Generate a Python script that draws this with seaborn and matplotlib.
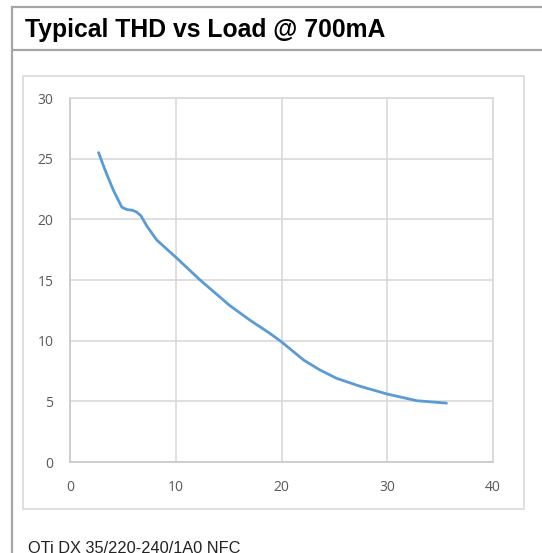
import matplotlib
matplotlib.use("Agg")
import matplotlib.pyplot as plt
from matplotlib.lines import Line2D
from matplotlib.patches import Rectangle
import seaborn as sns
import pandas as pd

# data
load = [2.7, 3.3, 4.1, 4.9, 5.4, 5.9, 6.3, 6.7, 7.3, 8.2, 10.1, 12.3, 15.1, 17.0,
        18.9, 20.0, 22.1, 23.6, 25.2, 27.4, 30.0, 32.8, 35.6]
thd = [25.5, 24.1, 22.4, 21.0, 20.8, 20.75, 20.6, 20.3, 19.4, 18.3, 16.8, 15.0, 12.9, 11.7,
       10.6, 9.9, 8.4, 7.6, 6.9, 6.25, 5.6, 5.05, 4.85]
x_ticks = [0, 10, 20, 30, 40]
y_ticks = [0, 5, 10, 15, 20, 25, 30]
title = "Typical THD vs Load @ 700mA"
footer = "OTi DX 35/220-240/1A0 NFC"

sns.set_theme(style="white")
plt.rcParams['font.family'] = ['Liberation Sans', 'DejaVu Sans']

W, H = 542, 553
fig = plt.figure(figsize=(W / 100, H / 100), dpi=100)
fig.patch.set_facecolor("white")

def fx(px):
    return px / W

def fy(py):
    return 1 - py / H

# outer frame lines
frame_col = "#A6A6A6"
fig.add_artist(Line2D([fx(12), 1.0], [fy(7), fy(7)], color=frame_col, lw=1.6))
fig.add_artist(Line2D([fx(12), 1.0], [fy(50), fy(50)], color=frame_col, lw=1.6))
fig.add_artist(Line2D([fx(12), fx(12)], [fy(7), 0.0], color=frame_col, lw=1.6))

# inner chart box
fig.add_artist(Rectangle((fx(23), fy(509)), fx(524) - fx(23), fy(76) - fy(509),
                         fill=False, edgecolor="#D9D9D9", lw=1.2))

fig.text(fx(25), fy(30), title, fontsize=17.8, fontweight="bold", color="black",
         va="center", ha="left")
fig.text(fx(28), fy(541), footer, fontsize=11.8, color="#222222", va="top", ha="left")

ax = fig.add_axes([fx(70), fy(462), fx(493) - fx(70), fy(98) - fy(462)])
df = pd.DataFrame({"load": load, "thd": thd})
sns.lineplot(data=df, x="load", y="thd", ax=ax, color="#5B9BD5", lw=2.0)

ax.set_xlim(0, 40)
ax.set_ylim(0, 30)
ax.set_xticks(x_ticks)
ax.set_yticks(y_ticks)
ax.set_xlabel("")
ax.set_ylabel("")
ax.grid(True, color="#D9D9D9", lw=1.2)
ax.set_axisbelow(True)
for s in ax.spines.values():
    s.set_color("#D9D9D9")
    s.set_linewidth(1.2)
ax.spines["left"].set_color("#C8C8C8")
ax.spines["bottom"].set_color("#C8C8C8")
ax.tick_params(axis="both", length=0, labelsize=10, labelcolor="#595959")
ax.tick_params(axis="y", pad=12)
ax.tick_params(axis="x", pad=13)
for lab in ax.get_xticklabels() + ax.get_yticklabels():
    lab.set_family(["Open Sans", "DejaVu Sans"])

fig.savefig("out.png", dpi=100, facecolor="white")
